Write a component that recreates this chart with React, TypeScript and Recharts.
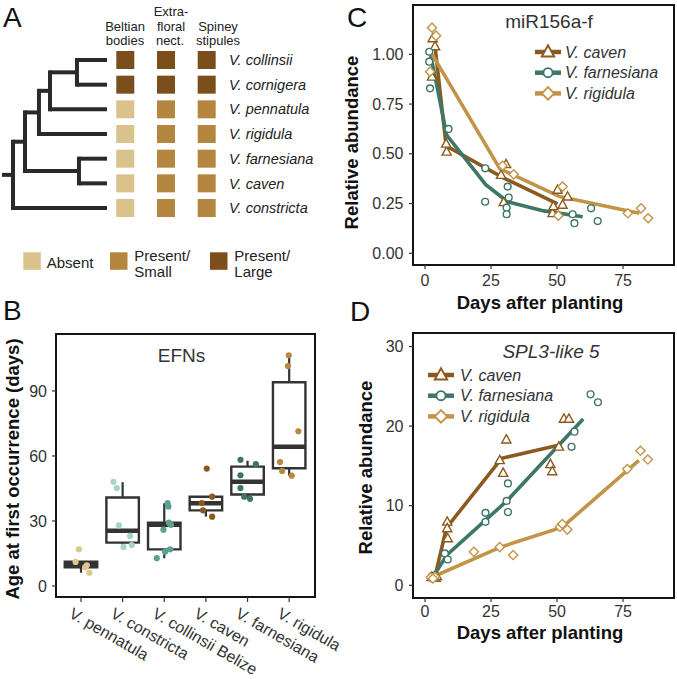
import React from "react";
import { ScatterChart, Scatter, XAxis, YAxis, ReferenceLine, ReferenceArea, Legend } from "recharts";

const FONT = "'Liberation Sans', Arial, Helvetica, sans-serif";
const INK = "#333333";
const FRAME = "#141414";

// ---------- A: phylogeny and ant-defence traits
const species = ["V. collinsii", "V. cornigera", "V. pennatula", "V. rigidula", "V. farnesiana", "V. caven", "V. constricta"];
// 0 = absent, 1 = present/small, 2 = present/large
const beltianBodies = [2, 2, 0, 0, 0, 0, 0];
const extrafloralNect = [2, 2, 1, 1, 1, 1, 1];
const spineyStipules = [2, 2, 1, 1, 1, 1, 1];
const stateColors = ["#d9c28b", "#b5863f", "#7b4e1b"];
const TIP_DEPTH = 10;
const treeNodes = [
  { id: "n1", depth: 1.05, kids: ["n2", "V. constricta"] },
  { id: "n2", depth: 2.19, kids: ["n3", "n6"] },
  { id: "n3", depth: 3.52, kids: ["n4", "V. rigidula"] },
  { id: "n4", depth: 4.57, kids: ["n5", "V. pennatula"] },
  { id: "n5", depth: 7.14, kids: ["V. collinsii", "V. cornigera"] },
  { id: "n6", depth: 7.33, kids: ["V. farnesiana", "V. caven"] },
];

// ---------- B: EFNs, age at first occurrence (days)
const efnSpecies = ["V. pennatula", "V. constricta", "V. collinsii Belize", "V. caven", "V. farnesiana", "V. rigidula"];
const efnColors = ["#dec78d", "#a5d5c8", "#5d9f90", "#8a591f", "#3e7467", "#b9893e"];
const efnMin = [6.1, 18, 12.8, 32, 40.2, 50.9];
const efnQ1 = [8.6, 20, 16.9, 34.9, 42.2, 54.3];
const efnMedian = [10, 25.5, 28.3, 38.2, 48.1, 64.3];
const efnQ3 = [11.2, 40.8, 29.2, 41.2, 55.1, 94];
const efnMax = [11.2, 47.9, 38.2, 41.2, 57.8, 106.5];
// [jitter, days]
const pennatulaAges = [[-0.05, 16.9], [-0.13, 11.1], [0.14, 9.5], [0.1, 8.6], [0.2, 6.1]];
const constrictaAges = [[-0.22, 48.1], [-0.14, 45.2], [-0.09, 28], [0.18, 23.1], [0.02, 18], [0.22, 18.9]];
const collinsiiAges = [[-0.18, 12.8], [-0.02, 26], [0.08, 38.2], [0.1, 36.6], [0.11, 29.2], [0.16, 28.2], [0.02, 15.8], [0.14, 16.9]];
const cavenAges = [[0.02, 54.2], [0.15, 41.2], [-0.1, 38.3], [-0.07, 34.9], [0.15, 32]];
const farnesianaAges = [[-0.17, 58.2], [0.2, 56.2], [-0.17, 51.1], [-0.17, 45.2], [-0.08, 41.2], [0.06, 40.2]];
const rigidulaAges = [[-0.01, 106.5], [-0.03, 101.5], [0.22, 71.4], [-0.22, 57.2], [-0.17, 53.1], [0.06, 50.9]];
const efnAges = [pennatulaAges, constrictaAges, collinsiiAges, cavenAges, farnesianaAges, rigidulaAges];

// ---------- C / D: series
const seriesNames = ["V. caven", "V. farnesiana", "V. rigidula"];
const seriesColors = ["#8b5a1f", "#3e7668", "#c29447"];
const seriesShapes = ["triangle", "circle", "diamond"];

// C: miR156a-f relative abundance, [day, value]
const mirCavenMean = [[3.8, 1.04], [8, 0.54], [29.5, 0.38], [50.2, 0.248]];
const mirFarnesianaMean = [[1.9, 1.013], [8.2, 0.594], [23, 0.345], [31.3, 0.259], [45, 0.213], [59.7, 0.184]];
const mirRigidulaMean = [[2.7, 1.0], [28.3, 0.425], [51, 0.285], [81.2, 0.201]];
const mirCaven = [[2.9, 1.08], [3.8, 1.04], [2.65, 0.887], [8.2, 0.51], [8, 0.55], [30.7, 0.447], [28.8, 0.393], [29.8, 0.256], [50.2, 0.318], [54, 0.284], [48.3, 0.201], [52.1, 0.243], [48.6, 0.235]];
const mirFarnesiana = [[1.6, 1.013], [1.6, 0.963], [1.9, 0.829], [8.9, 0.625], [22.8, 0.427], [22.8, 0.259], [31.3, 0.335], [31.7, 0.28], [30.9, 0.229], [30.9, 0.196], [55.9, 0.196], [56.6, 0.151], [62.9, 0.226], [65.4, 0.162]];
const mirRigidula = [[2.65, 1.134], [4.2, 1.094], [1.9, 0.913], [29.4, 0.44], [33.6, 0.397], [52.1, 0.335], [50.5, 0.189], [76.8, 0.201], [81.8, 0.226], [84.5, 0.176]];

// D: SPL3-like 5 relative abundance, [day, value]
const splCavenMean = [[3.7, 1.0], [8.1, 7.2], [29, 15.95], [50.5, 17.6]];
const splFarnesianaMean = [[3.3, 1.2], [8.3, 3.8], [31, 10.6], [59.9, 20.9]];
const splRigidulaMean = [[3.3, 1.1], [28.6, 4.8], [52, 7.3], [81, 15.7]];
const splCaven = [[2.5, 1.0], [4, 0.9], [4.5, 1.1], [8.4, 7.97], [8.4, 7.14], [8.6, 5.88], [30.8, 18.3], [28.3, 15.7], [29.6, 14.1], [47.5, 15.2], [48.2, 14.3], [52.6, 20.9], [54.5, 20.9], [50.7, 17.4]];
const splFarnesiana = [[2.5, 1.1], [3.5, 0.95], [3, 1.2], [7.5, 4.0], [8.6, 3.24], [22.9, 9.1], [22.9, 7.97], [31.4, 12.8], [30.9, 10.6], [31.4, 9.2], [55.5, 17.4], [56.6, 19.3], [62.7, 24.0], [65.5, 23.0]];
const splRigidula = [[2.2, 1.0], [3.8, 1.05], [3, 0.85], [18.5, 4.2], [28.3, 4.8], [33.4, 3.8], [51.1, 7.35], [52, 7.7], [53.9, 7.0], [76.6, 14.6], [81.6, 16.9], [84.4, 15.8]];

const dayTicks = [0, 25, 50, 75];
const mirTicks = [0, 0.25, 0.5, 0.75, 1];
const splTicks = [0, 10, 20, 30];
const efnTicks = [0, 30, 60, 90];

const DAY_DOMAIN = [-4.55, 94.3];
const EFN_X_DOMAIN = [0.4, 6.62];
const EFN_Y_DOMAIN = [-5.1, 116.3];

// ---------- helpers
const toPts = (pairs: number[][]) => pairs.map(([x, y]) => ({ x, y }));

const nodeById: Record<string, any> = Object.fromEntries(treeNodes.map((n) => [n.id, n]));
const rowOf = (id: string): number => {
  const n = nodeById[id];
  if (!n) return species.indexOf(id);
  const rows = n.kids.map(rowOf);
  return rows.reduce((a: number, b: number) => a + b, 0) / rows.length;
};
const depthOf = (id: string) => (nodeById[id] ? nodeById[id].depth : TIP_DEPTH);

const treeSegments: { x1: number; y1: number; x2: number; y2: number; cap: string }[] = [];
treeSegments.push({ x1: 0, y1: rowOf("n1"), x2: depthOf("n1"), y2: rowOf("n1"), cap: "butt" });
treeNodes.forEach((n) => {
  const rows = n.kids.map(rowOf);
  treeSegments.push({ x1: n.depth, y1: Math.min(...rows), x2: n.depth, y2: Math.max(...rows), cap: "square" });
  n.kids.forEach((k) => treeSegments.push({ x1: n.depth, y1: rowOf(k), x2: depthOf(k), y2: rowOf(k), cap: "butt" }));
});

const traitColumns = [beltianBodies, extrafloralNect, spineyStipules];
const squareData = traitColumns.flatMap((states, col) => states.map((state, row) => ({ col, row, state })));

const SquareMark = (props: any) => (
  <rect x={props.cx - 9} y={props.cy - 9} width={18} height={18} fill={stateColors[props.payload.state]} />
);

const dotShape = (color: string) => (props: any) => <circle cx={props.cx} cy={props.cy} r={3.1} fill={color} />;

function drawMarker(kind: string, color: string, cx: number, cy: number, s = 1) {
  const sw = 1.4 * s;
  if (kind === "triangle") {
    const w = 4.6 * s;
    return <polygon points={`${cx},${cy - 5 * s} ${cx + w},${cy + 3.3 * s} ${cx - w},${cy + 3.3 * s}`} fill="#fff" stroke={color} strokeWidth={sw} />;
  }
  if (kind === "circle") return <circle cx={cx} cy={cy} r={3.4 * s} fill="#fff" stroke={color} strokeWidth={sw} />;
  const h = 4.6 * s;
  return <polygon points={`${cx},${cy - h} ${cx + h},${cy} ${cx},${cy + h} ${cx - h},${cy}`} fill="#fff" stroke={color} strokeWidth={sw} />;
}

const markShape = (i: number) => (props: any) => drawMarker(seriesShapes[i], seriesColors[i], props.cx, props.cy);
const noShape = () => <g />;

const SeriesLegend = ({ textX }: { textX: number }) => (
  <svg width={170} height={66} style={{ overflow: "visible" }}>
    {seriesNames.map((name, i) => {
      const y = 10 + i * 20.7;
      return (
        <g key={name}>
          <line x1={0} x2={26} y1={y} y2={y} stroke={seriesColors[i]} strokeWidth={4.5} />
          {drawMarker(seriesShapes[i], seriesColors[i], 13, y, 1.35)}
          <text x={textX} y={y + 5.6} fontSize={16} fontStyle="italic" fill={INK} fontFamily={FONT}>
            {name}
          </text>
        </g>
      );
    })}
  </svg>
);

const SpeciesTick = (props: any) => {
  const { x, y, payload } = props;
  const label = efnSpecies[Math.round(payload.value) - 1];
  return (
    <g transform={`translate(${x - 13},${y + 14.7})`}>
      <text transform="rotate(30)" textAnchor="start" fontSize={16} fill={INK} fontFamily={FONT}>
        {label}
      </text>
    </g>
  );
};

const tickStyle = { fontSize: 16, fill: INK, fontFamily: FONT };
const tickLineStyle = { stroke: INK, strokeWidth: 1.2 };

function PanelA() {
  return (
    <ScatterChart width={340} height={240} margin={{ top: 0, right: 0, bottom: 0, left: 0 }}>
      <XAxis xAxisId="tree" type="number" dataKey="col" domain={[-0.19, 21.24]} hide allowDataOverflow />
      <XAxis xAxisId="trait" type="number" dataKey="col" domain={[-3.079, 2.45]} hide allowDataOverflow />
      <YAxis
        yAxisId="rows"
        orientation="right"
        type="number"
        dataKey="row"
        reversed
        domain={[-2.432, 7.296]}
        allowDataOverflow
        ticks={[0, 1, 2, 3, 4, 5, 6]}
        interval={0}
        tickFormatter={(v: number) => species[v]}
        width={115}
        axisLine={false}
        tickLine={false}
        tickSize={0}
        tickMargin={4}
        tick={{ fontSize: 14.5, fontStyle: "italic", fill: "#222", fontFamily: FONT }}
      />
      {treeSegments.map((s, i) => (
        <ReferenceLine
          key={i}
          xAxisId="tree"
          yAxisId="rows"
          segment={[{ x: s.x1, y: s.y1 }, { x: s.x2, y: s.y2 }]}
          stroke="#2a2a2a"
          strokeWidth={4}
          strokeLinecap={s.cap as any}
          ifOverflow="visible"
        />
      ))}
      <Scatter xAxisId="trait" yAxisId="rows" data={squareData} shape={SquareMark} isAnimationActive={false} />
    </ScatterChart>
  );
}

function PanelB() {
  const hw = 0.39;
  return (
    <ScatterChart width={365} height={379} margin={{ top: 34, right: 50, bottom: 0, left: 0 }}>
      <XAxis
        type="number"
        dataKey="x"
        domain={EFN_X_DOMAIN}
        allowDataOverflow
        ticks={[1, 2, 3, 4, 5, 6]}
        interval={0}
        height={82}
        axisLine={false}
        tickLine={tickLineStyle}
        tickSize={5}
        tickMargin={0}
        tick={<SpeciesTick />}
      />
      <YAxis
        type="number"
        dataKey="y"
        domain={EFN_Y_DOMAIN}
        allowDataOverflow
        ticks={efnTicks}
        interval={0}
        width={56}
        axisLine={false}
        tickLine={tickLineStyle}
        tickSize={4}
        tickMargin={5}
        tick={tickStyle}
      />
      {efnSpecies.map((name, i) => (
        <ReferenceLine key={`wu${i}`} segment={[{ x: i + 1, y: efnQ3[i] }, { x: i + 1, y: efnMax[i] }]} stroke={INK} strokeWidth={2.2} ifOverflow="visible" />
      ))}
      {efnSpecies.map((name, i) => (
        <ReferenceLine key={`wl${i}`} segment={[{ x: i + 1, y: efnMin[i] }, { x: i + 1, y: efnQ1[i] }]} stroke={INK} strokeWidth={2.2} ifOverflow="visible" />
      ))}
      {efnSpecies.map((name, i) => (
        <ReferenceArea key={`box${i}`} x1={i + 1 - hw} x2={i + 1 + hw} y1={efnQ1[i]} y2={efnQ3[i]} fill="#fff" fillOpacity={1} stroke={INK} strokeWidth={2.4} ifOverflow="visible" />
      ))}
      {efnSpecies.map((name, i) => (
        <ReferenceLine key={`med${i}`} segment={[{ x: i + 1 - hw, y: efnMedian[i] }, { x: i + 1 + hw, y: efnMedian[i] }]} stroke={INK} strokeWidth={4.5} ifOverflow="visible" />
      ))}
      {efnAges.map((pts, i) => (
        <Scatter
          key={efnSpecies[i]}
          data={pts.map(([j, y]) => ({ x: i + 1 + j, y }))}
          shape={dotShape(efnColors[i])}
          isAnimationActive={false}
        />
      ))}
      <ReferenceArea
        x1={EFN_X_DOMAIN[0]}
        x2={EFN_X_DOMAIN[1]}
        y1={EFN_Y_DOMAIN[0]}
        y2={EFN_Y_DOMAIN[1]}
        fill="none"
        fillOpacity={0}
        stroke={FRAME}
        strokeWidth={2}
        ifOverflow="visible"
      />
    </ScatterChart>
  );
}

function TimePanel(props: {
  height: number;
  top: number;
  xHeight: number;
  xTickMargin: number;
  yDomain: number[];
  yTicks: number[];
  fmt: (v: number) => string;
  means: number[][][];
  points: number[][][];
  legendLeft: number;
  legendTop: number;
  legendTextX: number;
}) {
  return (
    <ScatterChart width={337} height={props.height} margin={{ top: props.top, right: 3, bottom: 0, left: 0 }}>
      <XAxis
        type="number"
        dataKey="x"
        domain={DAY_DOMAIN}
        allowDataOverflow
        ticks={dayTicks}
        interval={0}
        height={props.xHeight}
        axisLine={false}
        tickLine={tickLineStyle}
        tickSize={4}
        tickMargin={props.xTickMargin}
        tick={tickStyle}
      />
      <YAxis
        type="number"
        dataKey="y"
        domain={props.yDomain}
        allowDataOverflow
        ticks={props.yTicks}
        interval={0}
        tickFormatter={props.fmt}
        width={73}
        axisLine={false}
        tickLine={tickLineStyle}
        tickSize={4}
        tickMargin={5.5}
        tick={tickStyle}
      />
      {props.means.map((m, i) => (
        <Scatter
          key={`line${i}`}
          data={toPts(m)}
          line={{ stroke: seriesColors[i], strokeWidth: 3.6 }}
          shape={noShape}
          isAnimationActive={false}
        />
      ))}
      {props.points.map((p, i) => (
        <Scatter key={`pts${i}`} data={toPts(p)} shape={markShape(i)} isAnimationActive={false} />
      ))}
      <ReferenceArea
        x1={DAY_DOMAIN[0]}
        x2={DAY_DOMAIN[1]}
        y1={props.yDomain[0]}
        y2={props.yDomain[1]}
        fill="none"
        fillOpacity={0}
        stroke={FRAME}
        strokeWidth={2}
        ifOverflow="visible"
      />
      <Legend
        layout="vertical"
        align="center"
        verticalAlign="middle"
        wrapperStyle={{ left: props.legendLeft, top: props.legendTop, width: 170, height: 66 }}
        content={() => <SeriesLegend textX={props.legendTextX} />}
      />
    </ScatterChart>
  );
}

const boldTitle = { fontSize: 18.5, fontWeight: 700, fill: "#111" };

function RotLabel({ cx, cy, text }: { cx: number; cy: number; text: string }) {
  return (
    <text transform={`translate(${cx},${cy}) rotate(-90)`} textAnchor="middle" dy="0.35em" {...boldTitle}>
      {text}
    </text>
  );
}

export default function App() {
  const legendX = [23.3, 110, 210];
  return (
    <div style={{ position: "absolute", left: 0, top: 0, width: 677, height: 679, background: "#fff", fontFamily: FONT, overflow: "hidden" }}>
      <div style={{ position: "absolute", left: 0, top: 0 }}>
        <PanelA />
      </div>
      <div style={{ position: "absolute", left: 0, top: 300 }}>
        <PanelB />
      </div>
      <div style={{ position: "absolute", left: 340, top: 0 }}>
        <TimePanel
          height={300}
          top={5}
          xHeight={35}
          xTickMargin={5.5}
          yDomain={[-0.059, 1.248]}
          yTicks={mirTicks}
          fmt={(v) => v.toFixed(2)}
          means={[mirCavenMean, mirFarnesianaMean, mirRigidulaMean]}
          points={[mirCaven, mirFarnesiana, mirRigidula]}
          legendLeft={195}
          legendTop={41.7}
          legendTextX={30}
        />
      </div>
      <div style={{ position: "absolute", left: 340, top: 300 }}>
        <TimePanel
          height={379}
          top={33}
          xHeight={81}
          xTickMargin={4}
          yDomain={[-1.6, 31.7]}
          yTicks={splTicks}
          fmt={(v) => String(v)}
          means={[splCavenMean, splFarnesianaMean, splRigidulaMean]}
          points={[splCaven, splFarnesiana, splRigidula]}
          legendLeft={88}
          legendTop={65}
          legendTextX={32}
        />
      </div>
      <svg width={677} height={679} style={{ position: "absolute", left: 0, top: 0, pointerEvents: "none" }} fontFamily={FONT}>
        {/* panel letters */}
        <text x={3} y={27} fontSize={28} fill="#111">A</text>
        <text x={3} y={320} fontSize={28} fill="#111">B</text>
        <text x={347} y={27} fontSize={28} fill="#111">C</text>
        <text x={350} y={321} fontSize={28} fill="#111">D</text>

        {/* trait headers */}
        <g fontSize={13} fill="#222" textAnchor="middle">
          <text x={125} y={30.5}>Beltian</text>
          <text x={125} y={45}>bodies</text>
          <text x={171} y={16}>Extra-</text>
          <text x={171} y={30.5}>floral</text>
          <text x={170} y={45}>nect.</text>
          <text x={218} y={30.5}>Spiney</text>
          <text x={218} y={45}>stipules</text>
        </g>

        {/* trait legend */}
        {stateColors.map((c, i) => (
          <rect key={c} x={legendX[i]} y={252.3} width={17.5} height={17.5} fill={c} />
        ))}
        <g fontSize={15} fill="#222">
          <text x={46.7} y={268}>Absent</text>
          <text x={134.3} y={261}>Present/</text>
          <text x={134.3} y={277}>Small</text>
          <text x={234.3} y={261}>Present/</text>
          <text x={234.3} y={277}>Large</text>
        </g>

        {/* titles */}
        <text x={181.5} y={362} fontSize={19} fill={INK} textAnchor="middle">EFNs</text>
        <text x={549} y={28} fontSize={19} fill={INK} textAnchor="middle">miR156a-f</text>
        <text x={551} y={358} fontSize={19} fill={INK} textAnchor="middle" fontStyle="italic">SPL3-like 5</text>

        {/* axis titles */}
        <RotLabel cx={13} cy={469} text="Age at first occurrence (days)" />
        <RotLabel cx={351.5} cy={142.5} text="Relative abundance" />
        <RotLabel cx={365.5} cy={467.5} text="Relative abundance" />
        <text x={540} y={309} textAnchor="middle" {...boldTitle}>Days after planting</text>
        <text x={540} y={638.5} textAnchor="middle" {...boldTitle}>Days after planting</text>
      </svg>
    </div>
  );
}
